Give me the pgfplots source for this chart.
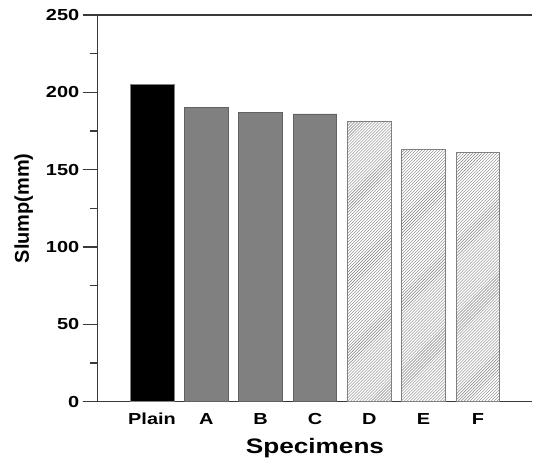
\documentclass[border=0pt]{standalone}
\usepackage{pgfplots}
\pgfplotsset{compat=1.18}
\usepackage{fontspec}
\setmainfont[FakeStretch=1.25]{Liberation Sans}
\newfontfamily\ylabfont{Liberation Sans}
\usetikzlibrary{patterns}
\definecolor{axgray}{HTML}{3A3A3A}
\definecolor{bargray}{HTML}{808080}
\begin{document}
\begin{tikzpicture}
\begin{axis}[
  scale only axis,
  width=436pt, height=388pt,
  xmin=-1, xmax=7,
  ymin=0, ymax=250,
  axis x line=box, axis y line=left,
  axis line style={-, line width=1.5pt, color=axgray},
  xtick={0,1,2,3,4,5,6},
  xticklabels={Plain,A,B,C,D,E,F},
  major x tick style={draw=none},
  ytick={0,50,100,150,200,250},
  minor ytick={25,75,125,175,225},
  tick align=outside,
  major tick length=15pt,
  minor tick length=8pt,
  every tick/.style={line width=1.5pt, color=axgray},
  /pgf/number format/assume math mode=true,
  tick label style={font=\fontsize{16}{19}\selectfont\bfseries},
  xticklabel style={yshift=7pt},
  xlabel={Specimens},
  ylabel={Slump(mm)},
  xlabel style={font=\fontsize{21}{24}\selectfont\bfseries, yshift=-7pt},
  ylabel style={font=\fontsize{20}{24}\selectfont\bfseries\ylabfont, yshift=6pt},
]
\addplot[ybar, bar width=44pt, fill=black, draw=gray, line width=0.8pt] coordinates {(0,205)};
\addplot[ybar, bar width=44pt, fill=bargray, draw=axgray!80, line width=0.8pt] coordinates {(1,190) (2,187) (3,186)};
\addplot[ybar, bar width=44pt, fill=white, draw=gray, line width=0.8pt] coordinates {(4,181) (5,163) (6,161)};
\addplot[ybar, bar width=44pt, pattern=north east lines, pattern color=gray, draw=gray, line width=0.8pt] coordinates {(4,181) (5,163) (6,161)};
\end{axis}
\path[use as bounding box] (current axis.south west) ++(-98pt,-59pt) rectangle ++(533pt,462pt);
\end{tikzpicture}
\end{document}
